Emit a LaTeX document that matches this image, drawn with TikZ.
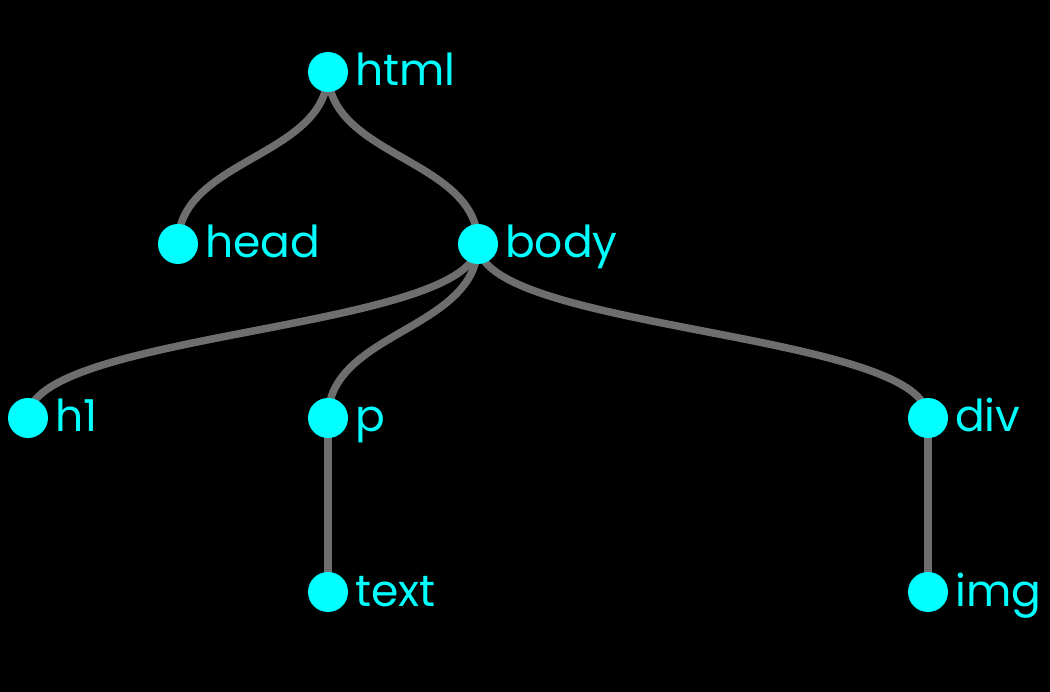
\documentclass[tikz,border=0pt]{standalone}
\usepackage{fontspec}
\setmainfont{Poppins}
\usetikzlibrary{calc,backgrounds}
\definecolor{nodecyan}{HTML}{00FFFF}
\definecolor{linkgray}{HTML}{6E6E6E}
\newcommand\treelink[2]{\draw[treeedge] (#1.center) .. controls ($(#1.center)!0.5!(#1.center|-#2.center)$) and ($(#2.center)!0.5!(#2.center|-#1.center)$) .. (#2.center);}
\tikzset{
  dot/.style={circle,fill=nodecyan,minimum size=40pt,inner sep=0pt,outer sep=0pt},
  lbl/.style={anchor=base west,text=nodecyan,inner sep=0pt,font=\fontsize{44}{46}\selectfont},
  treeedge/.style={draw=linkgray,line width=7.5pt}
}
\begin{document}
\begin{tikzpicture}[x=1pt,y=-1pt]
\useasboundingbox (0,0) rectangle (1050,692);
\begin{scope}[on background layer]
\fill[black] (0,0) rectangle (1050,692);
\end{scope}
\node[dot] (html) at (328,72) {};
\node[dot] (head) at (178,244) {};
\node[dot] (body) at (478,244) {};
\node[dot] (h1) at (28,418) {};
\node[dot] (p) at (328,418) {};
\node[dot] (div) at (928,418) {};
\node[dot] (text) at (328,592) {};
\node[dot] (img) at (928,592) {};
\foreach \n in {html,head,body,h1,p,div,text,img}{
  \node[lbl] (\n-label) at ($(\n.east)+(7,14)$) {\n};
}
\begin{scope}[on background layer]
\treelink{html}{head}
\treelink{html}{body}
\treelink{body}{h1}
\treelink{body}{p}
\treelink{body}{div}
\treelink{p}{text}
\treelink{div}{img}
\end{scope}
\end{tikzpicture}
\end{document}
